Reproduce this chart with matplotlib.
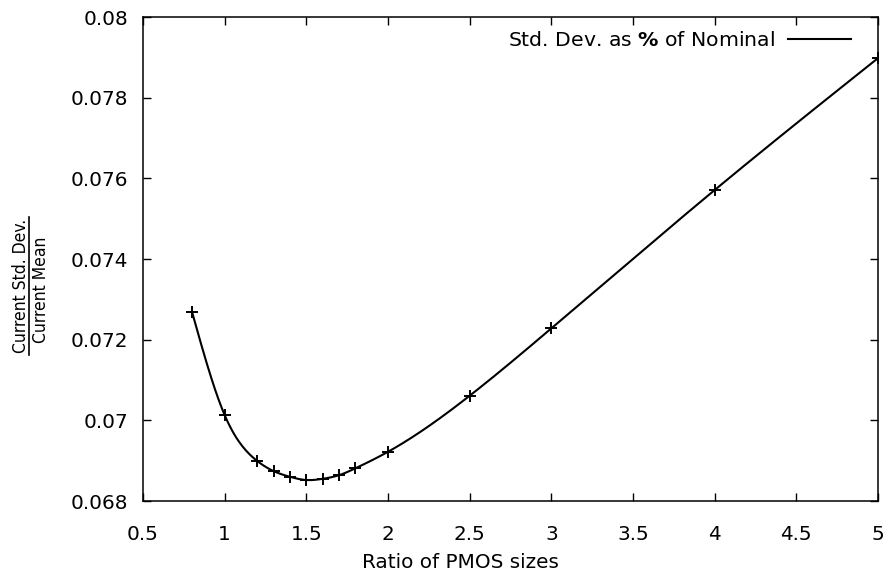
import numpy as np
import matplotlib
matplotlib.use("Agg")
import matplotlib.pyplot as plt
from matplotlib.lines import Line2D

ratio = [0.8, 1.0, 1.2, 1.3, 1.4, 1.5, 1.6, 1.7, 1.8, 2.0, 2.5, 3.0, 4.0, 5.0]
std_pct = [0.07269, 0.07013, 0.06899, 0.06874, 0.06860, 0.06852, 0.06855,
           0.06864, 0.06881, 0.06922, 0.07061, 0.07228, 0.07571, 0.07898]
xtick_vals = [0.5, 1, 1.5, 2, 2.5, 3, 3.5, 4, 4.5, 5]
xtick_labels = ["0.5", "1", "1.5", "2", "2.5", "3", "3.5", "4", "4.5", "5"]
ytick_vals = [0.068, 0.070, 0.072, 0.074, 0.076, 0.078, 0.080]
ytick_labels = ["0.068", "0.07", "0.072", "0.074", "0.076", "0.078", "0.08"]


def natural_cubic_spline(x, y, xs):
    x = np.asarray(x, float); y = np.asarray(y, float)
    n = len(x)
    h = np.diff(x)
    A = np.zeros((n, n)); b = np.zeros(n)
    A[0, 0] = 1; A[-1, -1] = 1
    for i in range(1, n - 1):
        A[i, i - 1] = h[i - 1]
        A[i, i] = 2 * (h[i - 1] + h[i])
        A[i, i + 1] = h[i]
        b[i] = 6 * ((y[i + 1] - y[i]) / h[i] - (y[i] - y[i - 1]) / h[i - 1])
    M = np.linalg.solve(A, b)
    idx = np.clip(np.searchsorted(x, xs) - 1, 0, n - 2)
    x0 = x[idx]; x1 = x[idx + 1]; hh = x1 - x0
    t0 = x1 - xs; t1 = xs - x0
    return (M[idx] * t0 ** 3 / (6 * hh) + M[idx + 1] * t1 ** 3 / (6 * hh)
            + (y[idx] / hh - M[idx] * hh / 6) * t0
            + (y[idx + 1] / hh - M[idx + 1] * hh / 6) * t1)


plt.rcParams['font.family'] = ['DejaVu Sans']
plt.rcParams['mathtext.fontset'] = 'dejavusans'
fs = 14.4
W, H = 886, 577

fig = plt.figure(figsize=(8.86, 5.77), dpi=100)
ax = fig.add_axes([143 / W, 1 - 501 / H, 735 / W, 484 / H])

xs = np.linspace(ratio[0], ratio[-1], 600)
ys = natural_cubic_spline(ratio, std_pct, xs)
ax.plot(xs, ys, color='black', lw=1.5, label=r"Std. Dev. as $\mathbf{\%}$ of Nominal")
ax.plot(ratio, std_pct, linestyle='none', marker='+', color='black',
        markersize=8, markeredgewidth=1.4)

ax.set_xlim(0.5, 5)
ax.set_ylim(0.068, 0.080)
ax.set_xticks(xtick_vals)
ax.set_xticklabels(xtick_labels)
ax.set_yticks(ytick_vals)
ax.set_yticklabels(ytick_labels)
ax.tick_params(direction='in', length=6, width=1, top=True, right=True,
               labelsize=fs)
ax.tick_params(axis='x', pad=17)
ax.tick_params(axis='y', pad=10.5)
for s in ax.spines.values():
    s.set_linewidth(1.1)

ax.set_xlabel("Ratio of PMOS sizes", fontsize=fs)
ax.xaxis.set_label_coords((460 - 143) / 735, (501 - 553) / 484)

ax.legend(loc='center right', frameon=False, markerfirst=False,
          fontsize=fs * 1.02, handlelength=3.1, handletextpad=0.65,
          borderpad=0, borderaxespad=0,
          bbox_to_anchor=(851 / W, 1 - 41 / H), bbox_transform=fig.transFigure)

# y-axis label as a fraction
yfs = 12.5
fig.text(21 / W, 1 - 286 / H, "Current Std. Dev.", rotation=90,
         ha='center', va='center', fontsize=yfs, fontstretch='condensed')
fig.text(41.5 / W, 1 - 290 / H, "Current Mean", rotation=90,
         ha='center', va='center', fontsize=yfs, fontstretch='condensed')
fig.add_artist(Line2D([29.5 / W, 29.5 / W], [1 - 217 / H, 1 - 355 / H],
                      color='black', lw=1.2, transform=fig.transFigure))

fig.savefig("out.png", dpi=100)
